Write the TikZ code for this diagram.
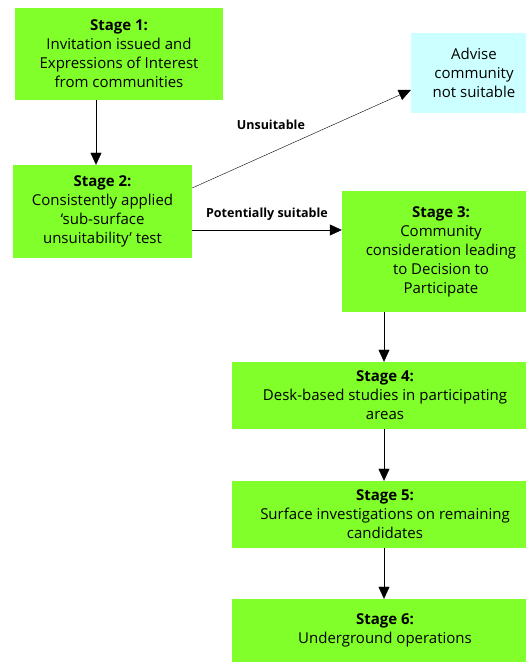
\documentclass[tikz,border=0pt]{standalone}
\usepackage{fontspec}
\setmainfont{Open Sans}
\usetikzlibrary{arrows.meta}
\usetikzlibrary{positioning}
\definecolor{stagegreen}{RGB}{128,255,42}
\definecolor{advisecyan}{RGB}{204,255,255}
\tikzset{
 stagebox/.style={fill=stagegreen, align=center, inner sep=2pt, font=\fontsize{15}{19}\selectfont},
 advbox/.style={fill=advisecyan, align=center, inner sep=2pt, font=\fontsize{15}{19}\selectfont},
 lbl/.style={font=\fontsize{12.5}{14}\selectfont\bfseries, inner sep=1pt},
 flow/.style={black, -{Triangle[width=11pt,length=12pt]}}
}

\begin{document}
\begin{tikzpicture} [x=1pt, y=1pt]
\useasboundingbox (0,0) rectangle (526,663);
\node[stagebox, minimum width=208pt, minimum height=92pt] (s1) at (119,609) {\textbf{Stage 1:}\\Invitation issued and\\Expressions of Interest\\from communities};
\node[stagebox, minimum width=179pt, minimum height=93pt] (s2) at (102.5,451.5) {\textbf{Stage 2:}\\Consistently applied\\`sub-surface\\unsuitability' test};
\node[advbox, minimum width=126pt, minimum height=80pt] (adv) at (474,590) {Advise\\community\\not suitable};
\node[stagebox, minimum width=198pt, minimum height=121pt] (s3) at (441,411.5) {\textbf{Stage 3:}\\Community\\consideration leading\\to Decision to\\Participate};
\node[stagebox, minimum width=306pt, minimum height=67pt] (s4) at (385,267.5) {\textbf{Stage 4:}\\Desk-based studies in participating\\areas};
\node[stagebox, minimum width=306pt, minimum height=67pt] (s5) at (385,148.5) {\textbf{Stage 5:}\\Surface investigations on remaining\\candidates};
\node[stagebox, minimum width=306pt, minimum height=63pt] (s6) at (385,32.5) {\textbf{Stage 6:}\\Underground operations};
\coordinate (a1) at (96,0);
\coordinate (a3) at (384,0);
\coordinate (pot) at (0,433);
\draw[flow] (s1.south -| a1) -- (s2.north -| a1);
\draw[flow] ([yshift=23.5pt]s2.east) -- ([yshift=-17pt]adv.west) node[lbl, pos=0.36, yshift=28pt] {Unsuitable};
\draw[flow] (s2.east |- pot) -- (s3.west |- pot) node[lbl, midway, above=8pt] {Potentially suitable};
\foreach \a/\b in {s3/s4, s4/s5, s5/s6} {
 \draw[flow] (\a.south -| a3) -- (\b.north -| a3);
}
\end{tikzpicture}
\end{document}
